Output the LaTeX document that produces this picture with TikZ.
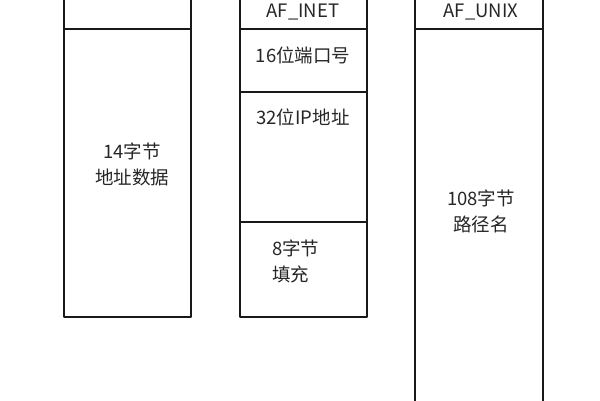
\documentclass[tikz,border=0pt]{standalone}
\usepackage{fontspec}
\setmainfont{Noto Sans CJK SC}
\begin{document}
\begin{tikzpicture}[x=1pt,y=-1pt,line join=round,font=\fontsize{18.5}{26}\selectfont]
	\tikzset{box/.style={line width=2.8pt,draw=black!90},
		txt/.style={text=black!85,inner sep=0pt,align=center}}
	\useasboundingbox (0,0) rectangle (600,400);
	% left: sockaddr
	\draw[box] (64,-5) rectangle (191,317);
	\draw[box] (64,29)--(191,29);
	\node[txt] (addr) at (132,164) {14字节\\地址数据};
	% middle: sockaddr_in
	\draw[box] (240,-5) rectangle (367,317);
	\draw[box] (240,29)--(367,29);
	\draw[box] (240,92)--(367,92);
	\draw[box] (240,222)--(367,222);
	\node[txt] (inet) at (303,12) {AF\_INET};
	\node[txt] (port) at (303,55) {16位端口号};
	\node[txt] (ip) at (303,117) {32位IP地址};
	\node[txt,align=left,anchor=west] (pad) at (272,261) {8字节\\填充};
	% right: sockaddr_un
	\draw[box] (415,-5) rectangle (543,410);
	\draw[box] (415,29)--(543,29);
	\node[txt] (unix) at (481,12) {AF\_UNIX};
	\node[txt] (path) at (481,211) {108字节\\路径名};
\end{tikzpicture}
\end{document}
